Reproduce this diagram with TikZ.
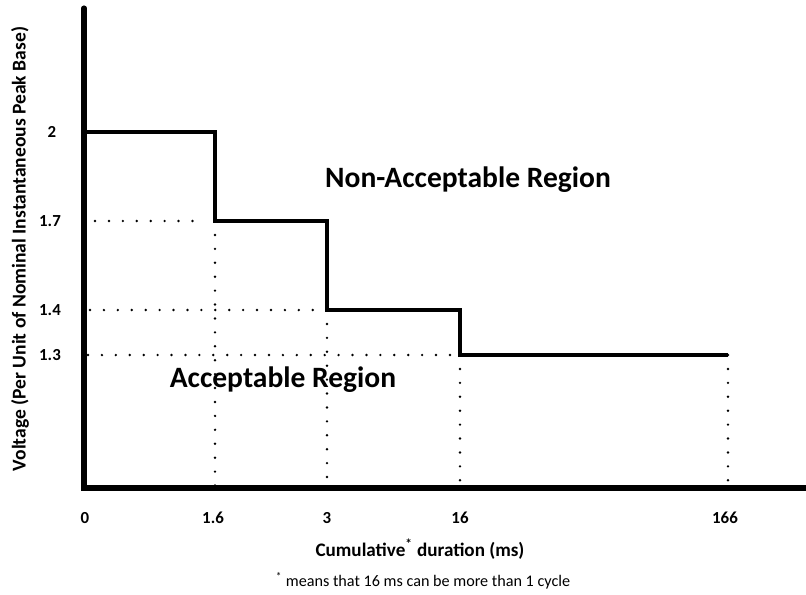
\documentclass[tikz,border=0pt]{standalone}
\usepackage{fontspec}
\setmainfont{Carlito}
\usepackage{tikz}

\begin{document}
\begin{tikzpicture}[x=0.025cm,y=-0.025cm,
    axis/.style={line width=3.6pt,line cap=round},
    curve/.style={line width=2.2pt},
    guide/.style={line width=1.9pt,line cap=round,dash pattern=on 0pt off 9.9pt},
    tick/.style={font=\bfseries\fontsize{12}{14}\selectfont},
    region/.style={font=\bfseries\fontsize{21}{24}\selectfont}]
            \useasboundingbox (0,0) rectangle (806,594);

            \coordinate (o) at (84,488);
            \coordinate (top) at (84,8);
            \coordinate (right) at (806,488);

            \coordinate (s1) at (84,132);
            \coordinate (s2) at (215,132);
            \coordinate (s3) at (215,221);
            \coordinate (s4) at (327,221);
            \coordinate (s5) at (327,310);
            \coordinate (s6) at (460,310);
            \coordinate (s7) at (460,355);
            \coordinate (s8) at (728,355);

            \coordinate (d1) at (95,221);
            \coordinate (d2) at (195,221);
            \coordinate (d3) at (90,310);
            \coordinate (d4) at (88,355);
            \coordinate (b1) at (215,488);
            \coordinate (b2) at (327,488);
            \coordinate (b3) at (460,488);
            \coordinate (b4) at (728,488);

            \node (y2) at (52,132) [tick] {2};
            \node (y17) at (50,221) [tick] {1.7};
            \node (y14) at (50,310) [tick] {1.4};
            \node (y13) at (50,355) [tick] {1.3};

            \node (x0) at (85,518) [tick] {0};
            \node (x16) at (213,518) [tick] {1.6};
            \node (x3) at (327,518) [tick] {3};
            \node (x16b) at (460,518) [tick] {16};
            \node (x166) at (725,518) [tick] {166};

            \node (xlabel) at (420,549) [font=\bfseries\fontsize{13.6}{16}\selectfont] {Cumulative\textsuperscript{*} duration (ms)};
            \node (note) at (423,581) [font=\fontsize{11.5}{13}\selectfont] {\textsuperscript{*} means that 16 ms can be more than 1 cycle};
            \node (ylabel) at (20,249) [rotate=90,font=\bfseries\fontsize{13.9}{16}\selectfont] {Voltage (Per Unit of Nominal Instantaneous Peak Base)};

            \node (nonacc) at (468,180) [region] {Non-Acceptable Region};
            \node (acc) at (283,380) [region] {Acceptable Region};

            \draw [guide] (d1) -- (d2)  (d3) -- (s5)  (d4) -- (s7)
            (s3) -- (b1)  (s5) -- (b2)  (s7) -- (b3)  (s8) -- (b4);

            \draw [curve] (s1) -- (s2) -- (s3) -- (s4) -- (s5) -- (s6) -- (s7) -- (s8);

            \draw [axis] (top) -- (o) -- (right);

        \end{tikzpicture}
\end{document}
